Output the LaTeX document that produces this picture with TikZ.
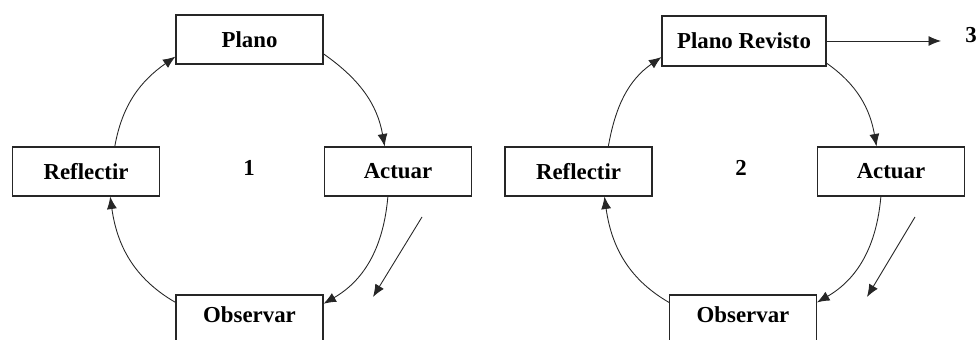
\documentclass[tikz,border=0pt]{standalone}
\usepackage{fontspec}
\setmainfont{Liberation Serif}
\usetikzlibrary{arrows.meta}
\begin{document}
\begin{tikzpicture}[x=0.02cm, y=0.02cm,
    stage/.style={draw=black!85, line width=0.6pt, minimum width=2.94cm, minimum height=0.98cm, inner sep=0pt, font=\fontsize{13}{15}\selectfont\bfseries},
    cycle/.style={draw=black!85, line width=0.5pt, -{Latex[length=2.5mm,width=2mm]}},
    numeral/.style={font=\fontsize{13}{15}\selectfont\bfseries}]
  \useasboundingbox (0,0) rectangle (978,340);
  \clip (0,0) rectangle (978,340);
  % Left cycle
  \node[stage] (planoL) at (249.5,300.5) {Plano};
  \node[stage] (actL)   at (398,168.5) {Actuar};
  \node[stage, text depth=6pt] (obsL) at (249.5,20.5) {Observar};
  \node[stage] (reflL)  at (86,168.5) {Reflectir};
  \node[numeral] (numA) at (249,172) {1};
  \draw[cycle] (planoL.-11) to[out=-35, in=100] (actL.118);
  \draw[cycle] (actL.-112) to[out=-95, in=30] (obsL.12);
  \draw[cycle] (obsL.167) to[out=150, in=-82] (reflL.-46);
  \draw[cycle] (reflL.41) to[out=80, in=-145] (planoL.193);
  \coordinate (dirAs) at (422,123);
  \coordinate (dirAe) at (373,43);
  \draw[cycle] (dirAs) -- (dirAe);
  % Right cycle
  \node[stage, minimum width=3.28cm, minimum height=1.0cm] (planoR) at (744,299) {Plano Revisto};
  \node[stage] (actR)   at (891,168.5) {Actuar};
  \node[stage, text depth=6pt] (obsR) at (743,20.5) {Observar};
  \node[stage] (reflR)  at (578.5,168.5) {Reflectir};
  \node[numeral] (numB) at (741,172) {2};
  \draw[cycle] (planoR.-15) to[out=-35, in=100] (actR.120);
  \draw[cycle] (actR.-112) to[out=-95, in=30] (obsR.13);
  \draw[cycle] (obsR.167) to[out=150, in=-82] (reflR.-44);
  \draw[cycle] (reflR.40) to[out=80, in=-145] (planoR.191);
  \coordinate (dirBs) at (915,123);
  \coordinate (dirBe) at (867,43);
  \draw[cycle] (dirBs) -- (dirBe);
  % Next cycle
  \coordinate (nextEnd) at (941,299);
  \node[numeral] (numC) at (971,305) {3};
  \draw[cycle] (planoR.east) -- (nextEnd);
\end{tikzpicture}
\end{document}
